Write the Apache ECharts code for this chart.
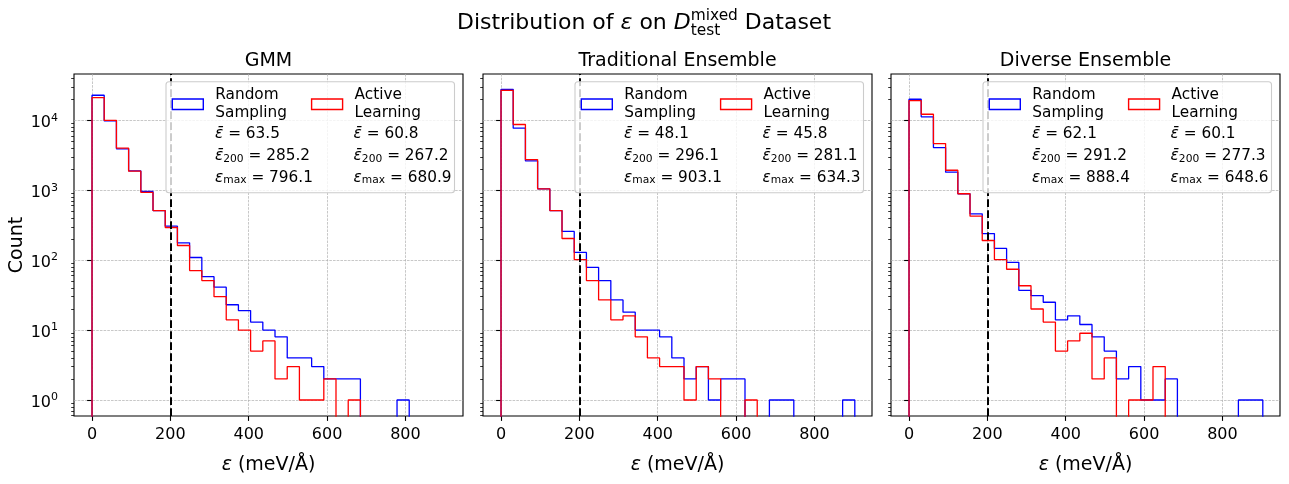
<!DOCTYPE html>
<html>
<head>
<meta charset="utf-8">
<title>Distribution of ε on D_test^mixed Dataset</title>
<script src="https://cdn.jsdelivr.net/npm/echarts@6.0.0/dist/echarts.min.js"></script>
<style>
    html, body { margin: 0; padding: 0; background: #fff; }
    #main { width: 1289px; height: 484px; }
</style>
</head>
<body>
<div id="main"></div>
<script>
// 分箱边界: 29 个 bin, 0 ~ 903.1
var binEdges = [0, 31.1, 62.3, 93.4, 124.6, 155.7, 186.9, 218.0, 249.1, 280.3, 311.4, 342.6, 373.7, 404.8,
    436.0, 467.1, 498.3, 529.4, 560.6, 591.7, 622.8, 654.0, 685.1, 716.3, 747.4, 778.6, 809.7, 840.8, 872.0, 903.1];

var panelTitles = ['GMM', 'Traditional Ensemble', 'Diverse Ensemble'];
var seriesNames = ['Random Sampling', 'Active Learning'];
var seriesColors = ['#0000ff', '#ff0000'];

// 每个 bin 的计数
var gmmRandom = [22800, 9800, 3900, 1890, 960, 512, 306, 177, 109, 58, 41, 23, 19, 13, 10, 8, 4, 4, 3, 2, 2, 2, 0, 0, 0, 1, 0, 0, 0];
var gmmActive = [21100, 10000, 4000, 1870, 930, 512, 293, 162, 71, 51, 30, 14, 10, 5, 7, 2, 3, 1, 1, 2, 0, 1, 0, 0, 0, 0, 0, 0, 0];
var tradRandom = [27700, 7700, 2620, 1045, 512, 257, 129, 79, 51, 27, 18, 10, 10, 8, 4, 2, 3, 1, 2, 2, 0, 0, 1, 1, 0, 0, 0, 0, 1];
var tradActive = [26800, 8700, 2740, 1045, 512, 204, 102, 51, 27, 14, 16, 8, 4, 3, 3, 1, 3, 2, 0, 0, 1, 0, 0, 0, 0, 0, 0, 0, 0];
var divRandom = [20000, 11200, 4070, 1810, 890, 460, 240, 147, 93, 37, 31, 25, 14, 16, 12, 8, 5, 2, 3, 1, 1, 2, 0, 0, 0, 0, 0, 1, 1];
var divActive = [19100, 12200, 4640, 1930, 890, 425, 191, 102, 74, 43, 20, 13, 5, 7, 9, 2, 4, 0, 1, 1, 3, 0, 0, 0, 0, 0, 0, 0, 0];

// 图例里的统计量 [Random, Active]
var meanErr = [[63.5, 60.8], [48.1, 45.8], [62.1, 60.1]];
var mean200 = [[285.2, 267.2], [296.1, 281.1], [291.2, 277.3]];
var maxErr = [[796.1, 680.9], [903.1, 634.3], [888.4, 648.6]];

// 刻度
var xTicks = [0, 200, 400, 600, 800];
var yMajorTicks = [1, 10, 100, 1000, 10000];
var yMinorTicks = [0.6, 0.7, 0.8, 0.9, 2, 3, 4, 5, 6, 7, 8, 9, 20, 30, 40, 50, 60, 70, 80, 90,
    200, 300, 400, 500, 600, 700, 800, 900, 2000, 3000, 4000, 5000, 6000, 7000, 8000, 9000, 20000, 30000, 40000];
var threshold = 200;

var panelCounts = [[gmmRandom, gmmActive], [tradRandom, tradActive], [divRandom, divActive]];

var FONT = 'DejaVu Sans';
var FLOOR = 0.1; // 0 计数画到坐标轴下方, 被裁掉
var gridLefts = [74, 483, 891];
var gridTop = 74, gridW = 389, gridH = 342;

var chart = document.getElementById('main');
var echart = echarts.init(chart, null, {renderer: 'canvas'});

var measureCtx = document.createElement('canvas').getContext('2d');
function textWidth(str, font) {
    measureCtx.font = font;
    return measureCtx.measureText(str).width;
}

//组装阶梯线数据
function stepData(counts) {
    let pts = [[binEdges[0], FLOOR]];
    for (let i = 0; i < counts.length; i++) {
        pts.push([binEdges[i], counts[i] > 0 ? counts[i] : FLOOR]);
    }
    pts.push([binEdges[counts.length], FLOOR]);
    return pts;
}

function buildChart() {
    let grids = [], xAxes = [], yAxes = [], series = [], titles = [], legends = [], graphics = [];

    for (let p = 0; p < 3; p++) {
        let left = gridLefts[p];
        grids.push({
            left: left, top: gridTop, width: gridW, height: gridH,
            show: true, borderColor: '#000', borderWidth: 1.1, backgroundColor: 'transparent'
        });

        xAxes.push({
            type: 'value', gridIndex: p, min: -46, max: 947,
            axisLine: {show: false},
            axisTick: {show: true, customValues: xTicks, length: 4.9, lineStyle: {color: '#000', width: 1.1}},
            axisLabel: {customValues: xTicks, margin: 11, color: '#000', fontSize: 16, fontFamily: FONT},
            splitLine: {show: true, lineStyle: {color: '#b0b0b0', width: 0.7, type: [2.6, 1.1]}},
            name: '{i|ε} (meV/Å)', nameLocation: 'middle', nameGap: 39.5,
            nameTextStyle: {
                color: '#000', fontSize: 19, fontFamily: FONT,
                rich: {i: {fontStyle: 'italic', fontSize: 19, fontFamily: FONT, color: '#000'}}
            }
        });

        // 主刻度
        yAxes.push({
            type: 'log', logBase: 10, gridIndex: p, min: 0.59, max: 45900, position: 'left',
            axisLine: {show: false},
            axisTick: {show: true, customValues: yMajorTicks, length: 4.9, lineStyle: {color: '#000', width: 1.1}},
            axisLabel: {
                show: p === 0, customValues: yMajorTicks, margin: 16, color: '#000',
                fontSize: 16, fontFamily: FONT,
                formatter: function (v) {
                    return '{b|10}{s|' + Math.round(Math.log10(v)) + '}';
                },
                rich: {
                    b: {fontSize: 16, fontFamily: FONT, color: '#000', padding: [6, 0, 0, 0]},
                    s: {fontSize: 11, fontFamily: FONT, color: '#000', padding: [3, 0, 0, 0], verticalAlign: 'top'}
                }
            },
            splitLine: {show: true, lineStyle: {color: '#b0b0b0', width: 0.7, type: [2.6, 1.1]}},
            name: p === 0 ? 'Count' : '', nameLocation: 'middle', nameGap: 43.5,
            nameTextStyle: {color: '#000', fontSize: 19, fontFamily: FONT}
        });
        // 次刻度
        yAxes.push({
            type: 'log', logBase: 10, gridIndex: p, min: 0.59, max: 45900, position: 'left', offset: 0,
            axisLine: {show: false},
            axisTick: {show: true, customValues: yMinorTicks, length: 2.8, lineStyle: {color: '#000', width: 0.8}},
            axisLabel: {show: false},
            splitLine: {show: false}
        });

        for (let s = 0; s < 2; s++) {
            let ser = {
                name: seriesNames[s], type: 'line', step: 'end',
                xAxisIndex: p, yAxisIndex: p * 2,
                data: stepData(panelCounts[p][s]),
                showSymbol: false, symbol: 'none', clip: true,
                lineStyle: {color: seriesColors[s], width: 1.3},
                itemStyle: {color: seriesColors[s]},
                emphasis: {disabled: true},
                z: 2 + s
            };
            if (s === 1) {
                ser.markLine = {
                    silent: true, symbol: ['none', 'none'], label: {show: false},
                    lineStyle: {color: '#000', width: 2, type: [7.7, 3.3]},
                    emphasis: {disabled: true},
                    data: [{xAxis: threshold}]
                };
            }
            series.push(ser);
        }

        titles.push({
            text: panelTitles[p], left: left + gridW / 2, top: 51.5, textAlign: 'center', padding: 0,
            textStyle: {color: '#000', fontSize: 19, fontWeight: 'normal', fontFamily: FONT, lineHeight: 19}
        });

        // 图例框
        let boxLeft = left + gridW - 297;
        graphics.push({
            type: 'rect', z: 50, silent: true,
            shape: {x: boxLeft, y: 81.7, width: 288.5, height: 111, r: 3},
            style: {fill: 'rgba(255,255,255,0.8)', stroke: '#cccccc', lineWidth: 1.1}
        });

        legends.push({
            z: 60, left: boxLeft + 5.6, top: 86.6, padding: 0, orient: 'horizontal',
            itemGap: 24, itemWidth: 31, itemHeight: 10.5, selectedMode: false,
            formatter: function (name) {
                return name.replace(' ', '\n');
            },
            textStyle: {color: '#000', fontSize: 15.3, fontFamily: FONT, lineHeight: 17.7, padding: [0, 0, 0, 7]},
            data: seriesNames.map(function (n, k) {
                return {
                    name: n, icon: 'rect',
                    itemStyle: {color: 'rgba(0,0,0,0)', borderColor: seriesColors[k], borderWidth: 1.4}
                };
            })
        });

        for (let s = 0; s < 2; s++) {
            let lines = [
                '{i|ε\u0304} = ' + meanErr[p][s].toFixed(1),
                '{i|ε\u0304}{s|200} = ' + mean200[p][s].toFixed(1),
                '{i|ε}{s|max} = ' + maxErr[p][s].toFixed(1)
            ];
            graphics.push({
                type: 'text', z: 60, silent: true,
                x: boxLeft + 49 + s * 138.6, y: 123.5,
                style: {
                    text: lines.join('\n'), fill: '#000', fontSize: 15.3, fontFamily: FONT, lineHeight: 21.7,
                    align: 'left', verticalAlign: 'top',
                    rich: {
                        i: {fontStyle: 'italic', fontSize: 15.3, fontFamily: FONT, fill: '#000'},
                        s: {fontSize: 10.7, fontFamily: FONT, fill: '#000', padding: [5.4, 0, 0, 0]}
                    }
                }
            });
        }
    }

    // 总标题: Distribution of ε on D_test^mixed Dataset
    let fBase = '22px "' + FONT + '"', fIt = 'italic 22px "' + FONT + '"', fSmall = '15.4px "' + FONT + '"';
    let wLeft = textWidth('Distribution of ', fBase) + textWidth('ε', fIt) + textWidth(' on ', fBase) + textWidth('D', fIt);
    let wScript = Math.max(textWidth('mixed', fSmall), textWidth('test', fSmall));
    let wRight = textWidth(' Dataset', fBase);
    let x0 = 644 - (wLeft + wScript + wRight) / 2;
    graphics.push({
        type: 'text', x: x0, y: 22.8, silent: true,
        style: {
            text: 'Distribution of {i|ε} on {i|D}', fill: '#000', fontSize: 22, fontFamily: FONT,
            align: 'left', verticalAlign: 'middle',
            rich: {i: {fontStyle: 'italic', fontSize: 22, fontFamily: FONT, fill: '#000'}}
        }
    });
    graphics.push({
        type: 'text', x: x0 + wLeft, y: 16, silent: true,
        style: {text: 'mixed', fill: '#000', fontSize: 15.4, fontFamily: FONT, align: 'left', verticalAlign: 'middle'}
    });
    graphics.push({
        type: 'text', x: x0 + wLeft, y: 31, silent: true,
        style: {text: 'test', fill: '#000', fontSize: 15.4, fontFamily: FONT, align: 'left', verticalAlign: 'middle'}
    });
    graphics.push({
        type: 'text', x: x0 + wLeft + wScript, y: 22.8, silent: true,
        style: {text: ' Dataset', fill: '#000', fontSize: 22, fontFamily: FONT, align: 'left', verticalAlign: 'middle'}
    });

    let option = {
        animation: false,
        backgroundColor: '#fff',
        textStyle: {fontFamily: FONT},
        title: titles,
        legend: legends,
        grid: grids,
        xAxis: xAxes,
        yAxis: yAxes,
        graphic: graphics,
        series: series
    };
    echart.setOption(option);
}

buildChart();
</script>
</body>
</html>
